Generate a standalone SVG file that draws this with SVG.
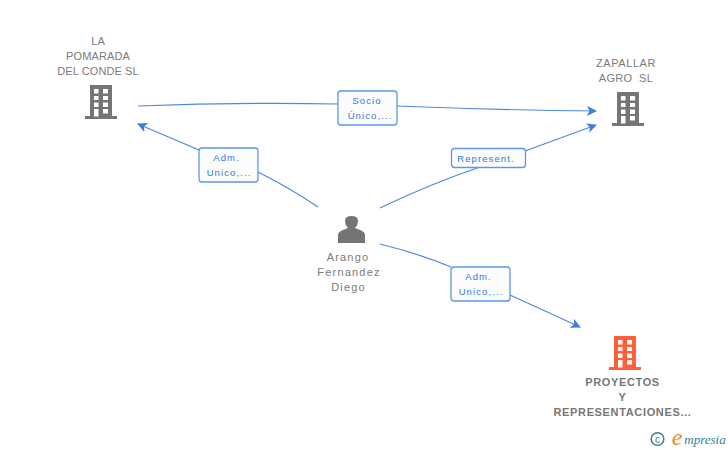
<svg xmlns="http://www.w3.org/2000/svg" width="728" height="450" viewBox="0 0 728 450">
<style>
text{font-family:"Liberation Sans",Arial,sans-serif;text-anchor:middle}
.n{font-size:11px;fill:#7a7a7a;letter-spacing:.1px}
.m{letter-spacing:1.2px}
.b{font-size:11px;fill:#777;font-weight:bold;letter-spacing:.65px}
.l{font-size:9.5px;fill:#2f78e0;letter-spacing:1.1px}
.c{fill:none;stroke:#4a88e6;stroke-width:1.2}
.box{fill:#fcfcfc;stroke:#5c97ea;stroke-width:1.3}
</style>
<defs>
<marker id="a" markerUnits="userSpaceOnUse" markerWidth="12" markerHeight="12" refX="9" refY="5" orient="auto"><path d="M0 0L10 5L0 10L2.500 5Z" fill="#3f7fdc"/></marker>
<g id="bld">
<path fill-rule="evenodd" d="M5 0H27V31H32V34H0V31H5ZM9 4V8.500H13.500V4ZM18 4V8.500H23V4ZM9 11V15H13.500V11ZM18 11V15H23V11ZM9 17.500V22H13.500V17.500ZM18 17.500V22H23V17.500ZM9 24V31.500H13.500V24ZM18 24V28.500H23V24Z"/>
</g>
</defs>
<g id="connectors">
<path class="c" d="M138 106Q240 102 340 104"/>
<path class="c" marker-end="url(#a)" d="M396 106Q500 110 596 111"/>
<path class="c" d="M318 207Q290 188 258 172"/>
<path class="c" marker-end="url(#a)" d="M199 150L138 124"/>
<path class="c" d="M380 208Q430 184 480 167"/>
<path class="c" marker-end="url(#a)" d="M525 151L596 125"/>
<path class="c" d="M380 244Q420 254 451 267"/>
<path class="c" marker-end="url(#a)" d="M510 295L580 327"/>
</g>
<g id="n1"><text class="n" x="98" y="45">LA</text><text class="n" x="98" y="60">POMARADA</text><text class="n" x="98" y="75">DEL CONDE SL</text><use href="#bld" x="85" y="85" fill="#757575"/></g>
<g id="n2"><text class="n" style="letter-spacing:.6px" x="626" y="67">ZAPALLAR</text><text class="n" style="white-space:pre;letter-spacing:.3px" x="626" y="82">AGRO  SL</text><use href="#bld" x="612" y="92" fill="#757575"/></g>
<g id="n3"><path fill="#757575" d="M338 243V235Q338 232 343 230L348 228Q345 225 345 221Q345 216 351.500 216Q358 216 358 221Q358 225 355 228L360 230Q365 232 365 235V243Z"/><text class="n m" x="348" y="261">Arango</text><text class="n m" x="349" y="276">Fernandez</text><text class="n m" x="348.500" y="291">Diego</text></g>
<g id="n4"><use href="#bld" x="609" y="336" fill="#ff6038"/><text class="b" x="622.500" y="386">PROYECTOS</text><text class="b" x="622.500" y="401">Y</text><text class="b" x="622.500" y="416">REPRESENTACIONES...</text></g>
<g id="l1"><rect class="box" x="338" y="91" width="59" height="34" rx="3"/><text class="l" x="367" y="104">Socio</text><text class="l" x="370" y="119">Único,...</text></g>
<g id="l2"><rect class="box" x="199" y="148" width="59" height="34" rx="3"/><text class="l" x="226.500" y="161">Adm.</text><text class="l" x="229" y="176">Unico,...</text></g>
<g id="l3"><rect class="box" x="451.500" y="148.500" width="74" height="19" rx="3"/><text class="l" x="486" y="162">Represent.</text></g>
<g id="l4"><rect class="box" x="451" y="267" width="59" height="34" rx="3"/><text class="l" x="478.500" y="280">Adm.</text><text class="l" x="481" y="295">Unico,...</text></g>
<g id="logo"><circle cx="657.500" cy="439" r="6.300" fill="none" stroke="#3d7f8f" stroke-width="1.500"/><text x="657.500" y="442.500" style="font-size:10px;fill:#3d7f8f">c</text><text x="677" y="445" style="font-size:24px;font-family:'Liberation Serif',serif;font-style:italic;fill:#f08a1d">e</text><text x="705" y="444" style="font-size:13px;font-family:'Liberation Serif',serif;font-style:italic;fill:#2f7f8f">mpresia</text></g>
</svg>
